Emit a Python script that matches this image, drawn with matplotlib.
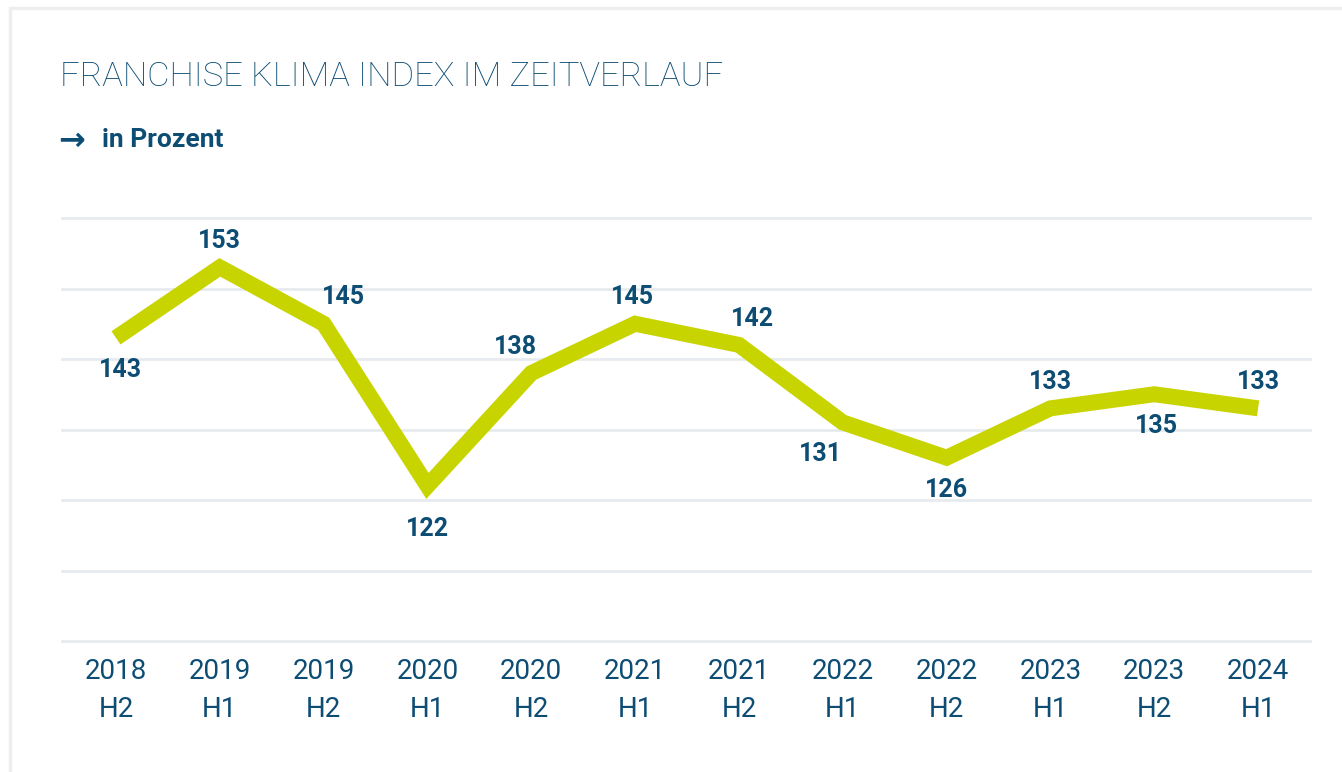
import matplotlib.pyplot as plt
from matplotlib.patches import Rectangle

# Data
periods = ["2018\nH2", "2019\nH1", "2019\nH2", "2020\nH1", "2020\nH2", "2021\nH1",
           "2021\nH2", "2022\nH1", "2022\nH2", "2023\nH1", "2023\nH2", "2024\nH1"]
index_values = [143, 153, 145, 122, 138, 145, 142, 131, 126, 133, 135, 133]
label_pos = ["below", "above", "above", "below", "above", "above",
             "above", "below", "below", "above", "below", "above"]
label_dx = [5, 0, 20, 0, -16, -3, 14, -22, 0, 0, 2, 0]
y_ticks = [100, 110, 120, 130, 140, 150, 160]

NAVY = "#0d4d74"
LIME = "#c8d400"
GRID = "#e7ebef"
W, H = 1342, 772

plt.rcParams['font.family'] = ['Roboto', 'DejaVu Sans']

fig = plt.figure(figsize=(W / 100, H / 100), dpi=100)
fig.patch.set_facecolor("white")

# card outline
fig.patches.append(Rectangle((10 / W, -0.1), 1.2, (H - 8) / H + 0.1,
                             transform=fig.transFigure, fill=False,
                             edgecolor="#eeeeee", linewidth=2.5))

ax = fig.add_axes([62 / W, 1 - 641 / H, (1310 - 62) / W, (641 - 218) / H])
x = list(range(len(periods)))
ax.plot(x, index_values, color=LIME, linewidth=11.5, solid_joinstyle="miter",
        solid_capstyle="butt", zorder=3)

ax.set_xlim(-0.52, 11.5)
ax.set_ylim(100, 160)
ax.set_yticks(y_ticks)
ax.yaxis.grid(True, color=GRID, linewidth=2)
for gl in ax.get_ygridlines():
    gl.set_clip_on(False)
ax.tick_params(axis="y", left=False, labelleft=False)
ax.tick_params(axis="x", length=0, pad=12, labelsize=20, labelcolor=NAVY)
ax.set_xticks(x)
ax.set_xticklabels(periods, fontweight="normal", linespacing=1.55)
for s in ax.spines.values():
    s.set_visible(False)

for xi, v, pos, dx in zip(x, index_values, label_pos, label_dx):
    dy = 19 if pos == "above" else -23
    if v == 122:
        dy = -31
    ax.annotate(str(v), (xi, v), xytext=(dx * 0.72, dy),
                textcoords="offset points", ha="center", va="center",
                fontsize=18, fontweight="bold", color=NAVY, clip_on=False)

fig.text(60 / W, 1 - 77 / H, "FRANCHISE KLIMA INDEX IM ZEITVERLAUF",
         fontsize=24.8, fontweight="light", color=NAVY, va="center", ha="left")
fig.text(58 / W, 1 - 141 / H, "→", fontsize=23, fontweight="bold", color=NAVY,
         va="center", ha="left", family=["DejaVu Sans"])
fig.text(102 / W, 1 - 140 / H, "in Prozent", fontsize=19, fontweight="bold",
         color=NAVY, va="center", ha="left")

fig.savefig("out.png", dpi=100)
